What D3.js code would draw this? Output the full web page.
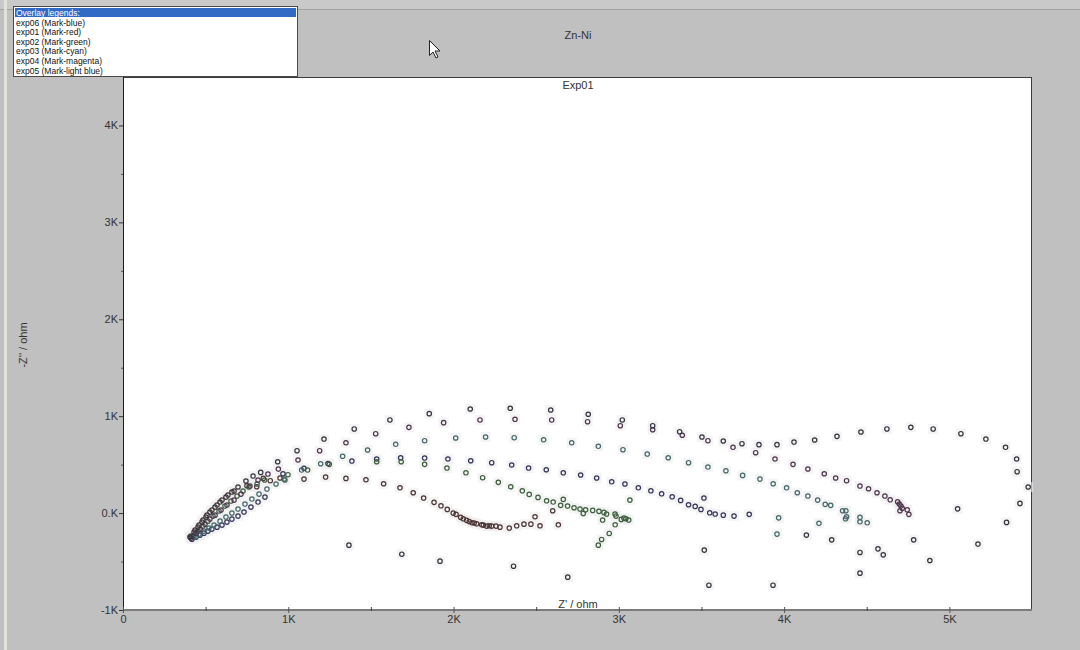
<!DOCTYPE html>
<html>
<head>
<meta charset="utf-8">
<script src="https://cdn.jsdelivr.net/npm/d3@7"></script>
<style>
  body { margin: 0; background: #c0c0c0; }
  svg { display: block; font-family: "Liberation Sans", Arial, sans-serif; }
</style>
</head>
<body>
<div id="chart"></div>
<script>
// axis ticks
const xTicks = [0, 1000, 2000, 3000, 4000, 5000]
const xTickLabels = ["0", "1K", "2K", "3K", "4K", "5K"]
const xMinor = [500, 1500, 2500, 3500, 4500]
const yTicks = [-1000, 0, 1000, 2000, 3000, 4000]
const yTickLabels = ["-1K", "0.K", "1K", "2K", "3K", "4K"]
const yMinor = [-500, 500, 1500, 2500, 3500]

// legend
const seriesNames = ["exp06 (Mark-blue)", "exp01 (Mark-red)", "exp02 (Mark-green)",
  "exp03 (Mark-cyan)", "exp04 (Mark-magenta)", "exp05 (Mark-light blue)"]

// data, [Z', -Z''] in ohm
const exp06 = [[417,-269],[442,-248],[466,-227],[490,-207],[514,-186],[538,-165],[569,-145],[599,-124],
  [629,-93],[659,-62],[696,-31],[732,10],[774,62],[817,114],[859,165],[968,406],[1095,462],[1240,511],
  [1385,537],[1535,558],[1680,571],[1825,568],[1966,558],[2104,540],[2231,520],[2352,496],[2454,465],
  [2561,447],[2664,416],[2769,393],[2866,362],[2957,323],[3037,300],[3118,261],[3194,230],[3259,199],
  [3323,168],[3374,131],[3422,86],[3462,69],[3497,38],[3550,3],[3583,-10],[3632,-21],[3697,-31],
  [3789,-13],[3515,155]]
const exp01 = [[411,-238],[436,-176],[460,-124],[484,-72],[508,-21],[538,31],[569,83],[599,134],
  [635,186],[672,227],[750,282],[809,272],[849,358],[891,334],[950,362],[1095,351],[1226,372],
  [1349,358],[1470,344],[1577,303],[1676,261],[1756,210],[1819,155],[1882,111],[1924,75],[1962,38],
  [1998,0],[2015,-13],[2043,-44],[2059,-59],[2079,-75],[2095,-86],[2111,-100],[2125,-103],[2140,-111],
  [2170,-121],[2180,-124],[2200,-134],[2216,-131],[2231,-134],[2257,-134],[2281,-145],[2337,-155],
  [2382,-131],[2426,-114],[2468,-114],[2493,-38],[2523,-131],[2600,24],[2634,-121]]
const exp02 = [[424,-238],[454,-186],[484,-134],[514,-83],[545,-31],[581,21],[617,72],[653,124],
  [690,176],[726,227],[762,269],[811,300],[857,341],[975,351],[998,396],[1117,444],[1248,503],
  [1535,530],[1683,530],[1825,503],[1960,465],[2075,416],[2176,365],[2271,317],[2346,272],[2416,230],
  [2458,193],[2511,162],[2563,127],[2603,114],[2648,80],[2690,72],[2729,55],[2765,41],[2799,34],
  [2842,28],[2880,18],[2910,7],[2926,-10],[2977,-10],[2983,-31],[3015,-65],[3031,-52],[3043,-59],
  [3060,-72],[2978,-121],[2942,-210],[2896,-272],[2876,-331],[2902,-72],[3067,134],[2664,142],[2785,-3]]
const exp03 = [[430,-248],[460,-217],[490,-186],[520,-155],[551,-124],[587,-83],[623,-41],[659,0],
  [696,41],[738,93],[780,145],[823,196],[871,248],[926,300],[980,341],[1081,444],[1196,509],[1329,586],
  [1480,651],[1650,710],[1825,747],[2013,775],[2194,785],[2367,778],[2545,757],[2715,726],[2876,689],
  [3025,654],[3172,609],[3299,571],[3422,520],[3539,475],[3648,437],[3749,389],[3854,351],[3934,303],
  [4015,261],[4080,210],[4144,176],[4203,134],[4249,90],[4282,80],[4354,24],[4374,24],[4378,-38],
  [4372,-59],[4459,-44],[4459,-90],[4503,-100],[4211,-106],[3967,-49],[3957,-217]]
const exp04 = [[411,-258],[442,-207],[466,-165],[496,-114],[526,-62],[557,-21],[593,31],[629,83],
  [672,134],[714,196],[768,279],[817,341],[877,403],[940,454],[1059,548],[1190,644],[1349,726],
  [1529,819],[1730,885],[1940,933],[2160,961],[2372,968],[2594,961],[2811,943],[3009,902],[3205,860],
  [3384,803],[3539,747],[3691,679],[3828,623],[3945,558],[4054,503],[4144,455],[4243,406],[4312,362],
  [4378,334],[4459,279],[4511,251],[4562,210],[4610,176],[4642,137],[4687,117],[4697,93],[4707,72],
  [4715,49],[4745,34],[4755,-13],[4701,24]]
const exp05 = [[405,-248],[430,-196],[454,-145],[478,-93],[502,-41],[526,10],[557,62],[587,114],
  [623,165],[659,217],[696,269],[744,331],[787,382],[833,420],[936,530],[1053,644],[1216,764],
  [1399,868],[1615,961],[1853,1026],[2101,1074],[2343,1082],[2588,1064],[2815,1020],[3021,961],
  [3205,902],[3368,840],[3503,785],[3632,744],[3745,716],[3848,706],[3957,706],[4060,733],[4185,754],
  [4320,792],[4465,837],[4622,868],[4767,885],[4902,868],[5070,819],[5221,764],[5340,679],[5407,558],
  [5410,427],[5477,269],[5427,100],[5346,-96],[5173,-320],[5050,44],[1367,-331],[1687,-424],
  [1918,-496],[2363,-548],[2691,-661],[3517,-382],[3545,-744],[3933,-744],[4135,-227],[4288,-276],
  [4459,-406],[4459,-620],[4568,-369],[4600,-431],[4784,-276],[4882,-489]]

const seriesData = [exp06, exp01, exp02, exp03, exp04, exp05]
const seriesColors = ["#34345a", "#4c3434", "#3c5e3c", "#44686a", "#4e344e", "#34343e"]

const W = 1080, H = 650

const svg = d3.select("#chart").append("svg")
  .attr("width", W)
  .attr("height", H)

// window background
svg.append("rect").attr("width", W).attr("height", H).attr("fill", "#c0c0c0")
svg.append("rect").attr("x", 0).attr("y", 0).attr("width", W).attr("height", 9).attr("fill", "#c9c9c9")
svg.append("line").attr("x1", 0).attr("x2", W).attr("y1", 9.5).attr("y2", 9.5)
  .attr("stroke", "#a2a2a2")
svg.append("rect").attr("x", 4).attr("y", 0).attr("width", 3).attr("height", H).attr("fill", "#e2e2dc")

const x = d3.scaleLinear().domain([0, 5500]).range([123, 1032])
const y = d3.scaleLinear().domain([-1000, 4500]).range([610, 77])

// plot area
svg.append("rect")
  .attr("x", x(0)).attr("y", y(4500))
  .attr("width", x(5500) - x(0)).attr("height", y(-1000) - y(4500))
  .attr("fill", "#fff")
svg.append("line").attr("x1", x(0)).attr("x2", x(5500)).attr("y1", y(4500) + 0.5).attr("y2", y(4500) + 0.5)
  .attr("stroke", "#3c3c3c")
svg.append("line").attr("x1", x(5500) - 0.5).attr("x2", x(5500) - 0.5).attr("y1", y(4500)).attr("y2", y(-1000))
  .attr("stroke", "#3c3c3c")

// titles
svg.append("text").attr("x", 578).attr("y", 39).attr("text-anchor", "middle")
  .attr("font-size", 11).attr("fill", "#333").text("Zn-Ni")
svg.append("text").attr("x", 578).attr("y", 89).attr("text-anchor", "middle")
  .attr("font-size", 11).attr("fill", "#333").text("Exp01")

// markers
const g = svg.append("g")
seriesData.forEach((pts, i) => {
  g.append("g").selectAll("rect").data(pts).join("rect")
    .attr("x", d => x(d[0]) - 5).attr("y", d => y(d[1]) - 5)
    .attr("width", 10).attr("height", 10)
    .attr("fill", "#ececec").attr("opacity", 0.6)
})
seriesData.forEach((pts, i) => {
  g.append("g").selectAll("circle").data(pts).join("circle")
    .attr("cx", d => x(d[0])).attr("cy", d => y(d[1]))
    .attr("r", 2.2)
    .attr("fill", "none")
    .attr("stroke", seriesColors[i])
    .attr("stroke-width", 1.2)
})

// y axis
const yAxis = svg.append("g").attr("transform", `translate(${x(0)},0)`)
  .call(d3.axisLeft(y).tickValues(yTicks).tickFormat((d, i) => yTickLabels[i]).tickSize(4).tickPadding(1))
svg.append("g").attr("transform", `translate(${x(0)},0)`)
  .call(d3.axisLeft(y).tickValues(yMinor).tickFormat("").tickSize(2))
  .call(a => a.select(".domain").remove())
  .selectAll("line").attr("stroke", "#555")
yAxis.select(".domain").remove()
yAxis.selectAll("text").attr("font-size", 11).attr("fill", "#333").attr("font-family", "Liberation Sans, Arial")
yAxis.selectAll("line").attr("stroke", "#333")
svg.append("line").attr("x1", x(0) + 0.5).attr("x2", x(0) + 0.5).attr("y1", y(4500)).attr("y2", y(-1000) + 1)
  .attr("stroke", "#1e1e1e")

// x axis
svg.append("line").attr("x1", x(0)).attr("x2", x(5500)).attr("y1", y(-1000)).attr("y2", y(-1000))
  .attr("stroke", "#7c7c7c").attr("stroke-width", 2)
const xAxis = svg.append("g").attr("transform", `translate(0,${y(-1000)})`)
  .call(d3.axisBottom(x).tickValues(xTicks).tickFormat((d, i) => xTickLabels[i]).tickSize(3).tickPadding(2))
xAxis.select(".domain").remove()
xAxis.selectAll("text").attr("font-size", 11).attr("fill", "#333").attr("font-family", "Liberation Sans, Arial")
xAxis.selectAll("line").attr("stroke", "#555").attr("y1", -3)
svg.append("g").attr("transform", `translate(0,${y(-1000)})`)
  .call(d3.axisBottom(x).tickValues(xMinor).tickFormat("").tickSize(1))
  .call(a => a.select(".domain").remove())
  .selectAll("line").attr("stroke", "#444").attr("y1", -3)

// axis titles
svg.append("text").attr("x", 578).attr("y", 608).attr("text-anchor", "middle")
  .attr("font-size", 11).attr("fill", "#333").text("Z' / ohm")
svg.append("text").attr("transform", "translate(27,345) rotate(-90)").attr("text-anchor", "middle")
  .attr("font-size", 11).attr("fill", "#333").text("-Z'' / ohm")

// overlay legend box
const leg = svg.append("g")
leg.append("rect").attr("x", 13.5).attr("y", 6.5).attr("width", 284).attr("height", 70)
  .attr("fill", "#fff").attr("stroke", "#4a4a4a")
leg.append("rect").attr("x", 15).attr("y", 8).attr("width", 281).attr("height", 9)
  .attr("fill", "#316ac5")
leg.append("text").attr("x", 16).attr("y", 15.5).attr("font-size", 8.5).attr("fill", "#fff")
  .text("Overlay legends:")
leg.selectAll("text.row").data(seriesNames).join("text")
  .attr("class", "row")
  .attr("x", 16)
  .attr("y", (d, i) => 25.5 + i * 9.6)
  .attr("font-size", 8.5)
  .attr("fill", "#111")
  .text(d => d)

// mouse pointer
svg.append("path")
  .attr("transform", "translate(429.5,40.5)")
  .attr("d", "M0,0 L0,15 L3.5,11.5 L6.5,17.5 L8.5,16.5 L5.5,10.5 L10.5,10.5 Z")
  .attr("fill", "#fff").attr("stroke", "#222").attr("stroke-width", 1)
</script>
</body>
</html>
